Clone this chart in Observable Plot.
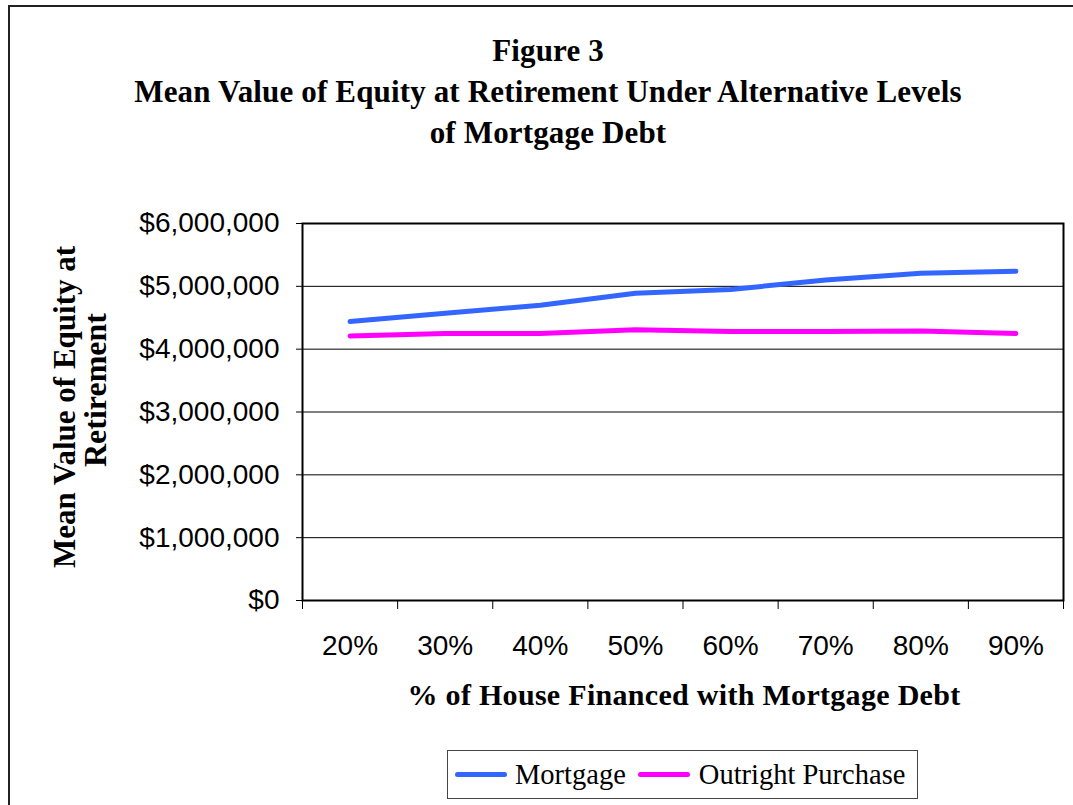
<!DOCTYPE html>
<html>
<head>
<meta charset="utf-8">
<script src="https://cdn.jsdelivr.net/npm/d3@7"></script>
<script src="https://cdn.jsdelivr.net/npm/@observablehq/plot@0.6"></script>
<style>
  html, body { margin: 0; padding: 0; background: #fff; overflow: hidden; }
  #wrap { position: relative; width: 1073px; height: 805px; overflow: hidden; background: #fff; }
  #chart { position: absolute; left: 0; top: 0; }
  #border { position: absolute; left: 8px; top: 5px; width: 1100px; height: 900px;
            border-left: 2px solid #222; border-top: 2px solid #222; pointer-events: none; }
  .serif { font-family: "Liberation Serif", "Times New Roman", serif; color: #000; }
  #title { position: absolute; left: 48px; top: 30px; width: 1000px; text-align: center;
           font-weight: bold; font-size: 31px; line-height: 41px; white-space: nowrap; letter-spacing: 0.15px; }
  #xtitle { position: absolute; left: 384px; top: 680px; width: 600px; text-align: center;
            font-weight: bold; font-size: 30px; line-height: 30px; letter-spacing: 0.3px; white-space: nowrap; }
  .ytitle { position: absolute; font-weight: bold; line-height: 30px;
            transform-origin: 0 0; transform: rotate(-90deg); white-space: nowrap; }
  #ytitle1 { left: 50px; top: 568px; font-size: 31px; }
  #ytitle2 { left: 80px; top: 540px; width: 300px; text-align: center; font-size: 32px; }
  #legend { position: absolute; left: 447px; top: 750px; width: 469px; height: 47px;
            border: 1.5px solid #444; display: flex; align-items: center; box-sizing: content-box; }
  .sw { display: inline-block; width: 52px; height: 5px; border-radius: 3px; }
  .lt { font-size: 28.5px; line-height: 30px; white-space: nowrap; }
</style>
</head>
<body>
<div id="wrap">
  <div id="chart"></div>
  <div id="title" class="serif">Figure 3<br>Mean Value of Equity at Retirement Under Alternative Levels<br>of Mortgage Debt</div>
  <div id="ytitle1" class="ytitle serif">Mean Value of Equity at</div>
  <div id="ytitle2" class="ytitle serif">Retirement</div>
  <div id="xtitle" class="serif">% of House Financed with Mortgage Debt</div>
  <div id="legend" class="serif"></div>
  <div id="border"></div>
</div>
<script>
// ---- data ----
const categories = [20, 30, 40, 50, 60, 70, 80, 90];            // % of house financed
const mortgage   = [4440000, 4570000, 4700000, 4890000, 4950000, 5100000, 5210000, 5240000];
const outright   = [4210000, 4250000, 4250000, 4310000, 4280000, 4280000, 4290000, 4250000];
const seriesNames  = ["Mortgage", "Outright Purchase"];
const seriesColors = ["#3366FF", "#FF00FF"];
const yTicks   = [0, 1000000, 2000000, 3000000, 4000000, 5000000, 6000000];
const xBounds  = [15, 25, 35, 45, 55, 65, 75, 85, 95];          // category boundaries (tick marks)

const rows = categories.flatMap((c, i) => [
  {pct: c, value: mortgage[i], series: seriesNames[0]},
  {pct: c, value: outright[i], series: seriesNames[1]}
]);

const sans = "'Liberation Sans', Arial, sans-serif";

const chart = Plot.plot({
  width: 1073,
  height: 805,
  marginTop: 223,
  marginBottom: 205,
  marginLeft: 302,
  marginRight: 10,
  style: {background: "transparent", color: "#000", overflow: "visible"},
  x: {type: "linear", domain: [xBounds[0], xBounds[xBounds.length - 1]]},
  y: {domain: [yTicks[0], yTicks[yTicks.length - 1]]},
  color: {domain: seriesNames, range: seriesColors},
  marks: [
    Plot.gridY(yTicks, {stroke: "#000", strokeOpacity: 1, strokeWidth: 1}),
    Plot.axisY(yTicks, {tickSize: 6, tickPadding: 17, tickFormat: d3.format("$,"),
                        fontSize: 28, fontFamily: sans, label: null}),
    Plot.axisX(xBounds, {tickSize: 9, tickFormat: () => "", label: null}),
    Plot.axisX(categories, {tickSize: 0, tickPadding: 35, tickFormat: d => d + "%",
                            fontSize: 28, fontFamily: sans, label: null}),
    Plot.line(rows, {x: "pct", y: "value", z: "series", stroke: "series",
                     strokeWidth: 5, strokeLinecap: "round", strokeLinejoin: "round"}),
    Plot.frame({stroke: "#000", strokeWidth: 2})
  ]
});
document.getElementById("chart").appendChild(chart);

// legend
const legend = document.getElementById("legend");
const gaps = [[7, 8], [12, 9]];
seriesNames.forEach((name, i) => {
  const sw = document.createElement("span");
  sw.className = "sw";
  sw.style.background = seriesColors[i];
  sw.style.marginLeft = gaps[i][0] + "px";
  sw.style.marginRight = gaps[i][1] + "px";
  const t = document.createElement("span");
  t.className = "lt";
  t.textContent = name;
  legend.appendChild(sw);
  legend.appendChild(t);
});
</script>
</body>
</html>
